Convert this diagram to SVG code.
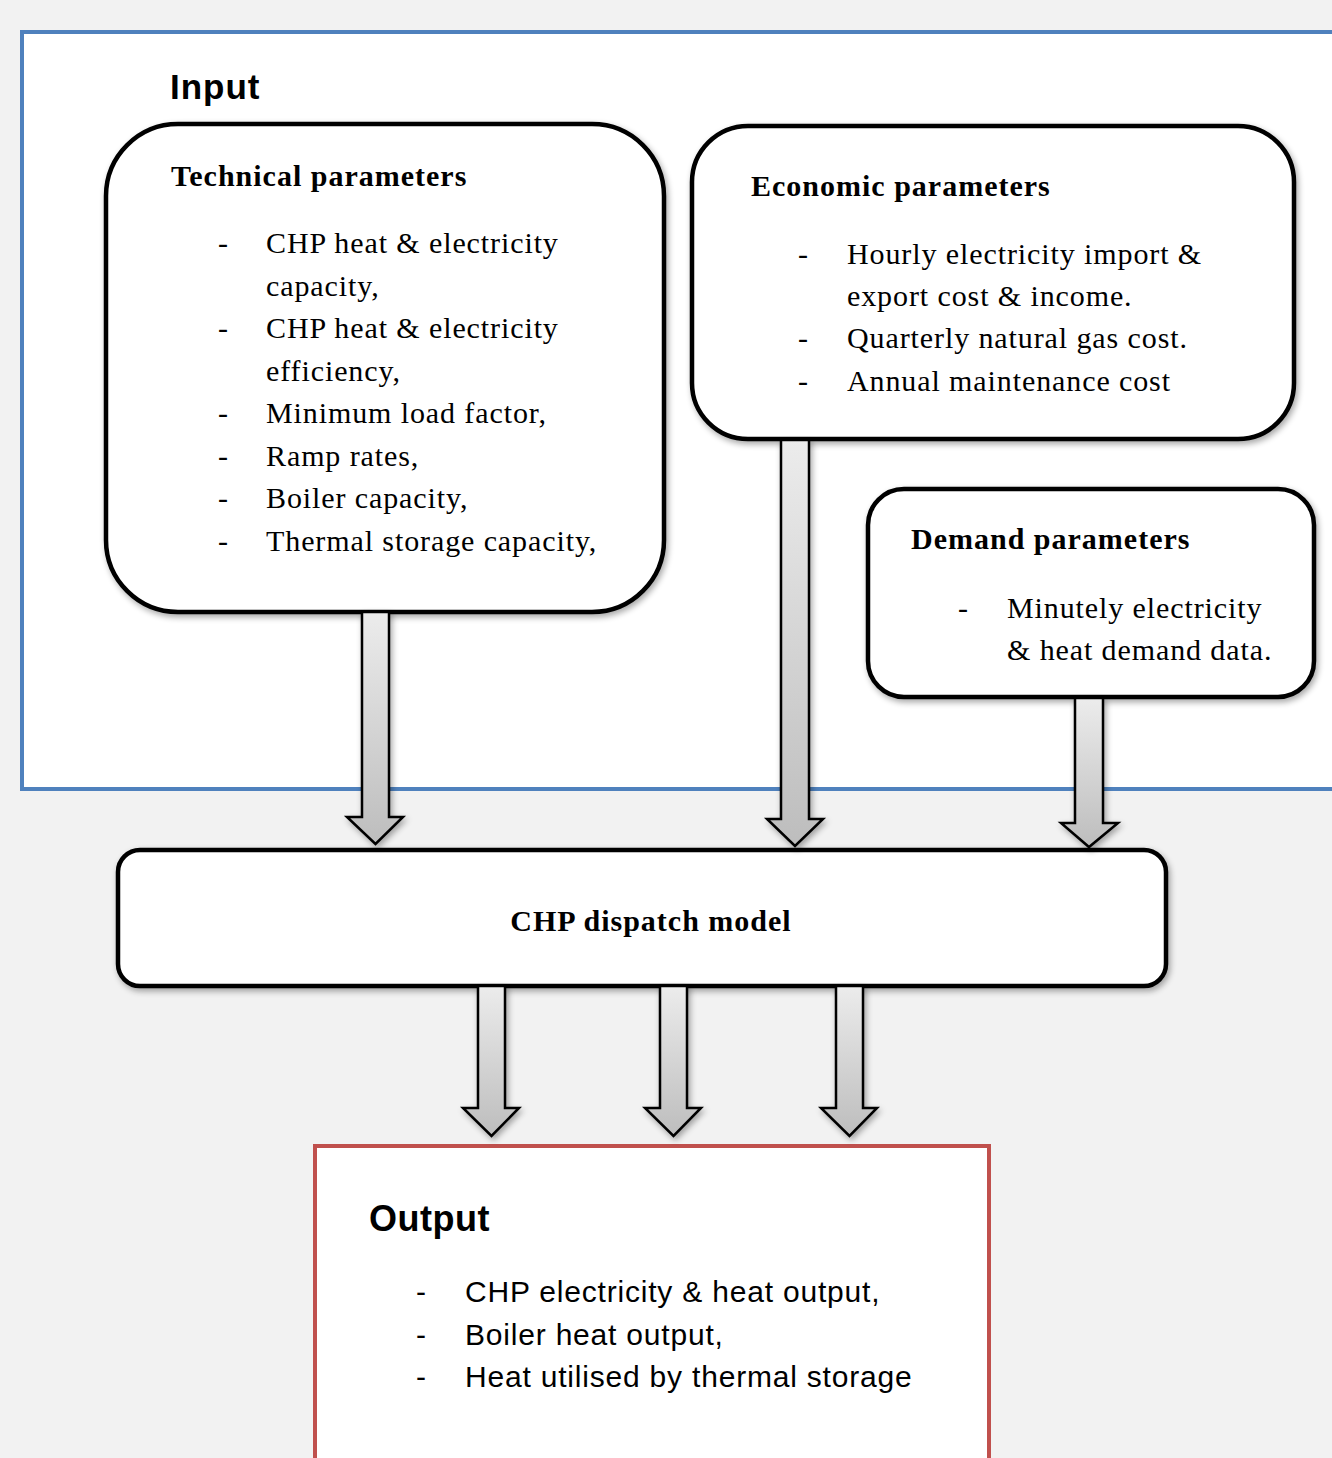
<svg xmlns="http://www.w3.org/2000/svg" width="1332" height="1458" viewBox="0 0 1332 1458">
<style>
.box{fill:#fff;stroke:#000;stroke-width:4.5}
.serif{font-family:"Liberation Serif","Times New Roman",serif;font-size:30px;letter-spacing:0.9px;fill:#000}
.b{font-weight:bold;letter-spacing:1px}
.sans{font-family:"Liberation Sans",Arial,sans-serif;fill:#000}
.arrow{fill:url(#ag);stroke:#000;stroke-width:2.5;stroke-linejoin:miter}
</style>
<defs>
<linearGradient id="ag" x1="0" y1="0" x2="0" y2="1">
<stop offset="0" stop-color="#ececec"/>
<stop offset="1" stop-color="#bdbdbd"/>
</linearGradient>
<filter id="sh" x="-10%" y="-10%" width="120%" height="125%">
<feGaussianBlur in="SourceAlpha" stdDeviation="3"/>
<feOffset dx="2" dy="3" result="o"/>
<feComponentTransfer><feFuncA type="linear" slope="0.35"/></feComponentTransfer>
<feMerge><feMergeNode/><feMergeNode in="SourceGraphic"/></feMerge>
</filter>
<filter id="inner" x="0" y="0" width="100%" height="100%">
<feFlood flood-color="#000" flood-opacity="0.25"/>
<feComposite in2="SourceAlpha" operator="out"/>
<feGaussianBlur stdDeviation="6"/>
<feOffset dx="2" dy="3"/>
<feComposite in2="SourceAlpha" operator="in"/>
<feMerge><feMergeNode in="SourceGraphic"/><feMergeNode/></feMerge>
</filter>
</defs>
<rect width="1332" height="1458" fill="#f2f2f2"/>

<g id="input">
<rect x="22" y="32" width="1340" height="757" fill="#fff" filter="url(#inner)"/>
<rect x="22" y="32" width="1340" height="757" fill="none" stroke="#4f81bd" stroke-width="4"/>
<text x="170" y="99" class="sans" font-weight="bold" font-size="35" letter-spacing="1">Input</text>
</g>

<g id="output">
<rect x="315" y="1146" width="674" height="330" fill="#fff" filter="url(#inner)"/>
<rect x="315" y="1146" width="674" height="330" fill="none" stroke="#c0504d" stroke-width="4"/>
<text x="369" y="1231" class="sans" font-weight="bold" font-size="36" letter-spacing="0.5">Output</text>
<g class="sans" font-size="30" letter-spacing="0.8">
<text x="416" y="1302">-</text><text x="465" y="1302">CHP electricity &amp; heat output,</text>
<text x="416" y="1345">-</text><text x="465" y="1345">Boiler heat output,</text>
<text x="416" y="1387">-</text><text x="465" y="1387">Heat utilised by thermal storage</text>
</g>
</g>

<g id="technical">
<rect x="106" y="124" width="558" height="488" rx="72" class="box" filter="url(#sh)"/>
<text x="171" y="186" class="serif b">Technical parameters</text>
<g class="serif">
<text x="218" y="253">-</text><text x="266" y="253">CHP heat &amp; electricity</text>
<text x="266" y="296">capacity,</text>
<text x="218" y="338">-</text><text x="266" y="338">CHP heat &amp; electricity</text>
<text x="266" y="381">efficiency,</text>
<text x="218" y="423">-</text><text x="266" y="423">Minimum load factor,</text>
<text x="218" y="466">-</text><text x="266" y="466">Ramp rates,</text>
<text x="218" y="508">-</text><text x="266" y="508">Boiler capacity,</text>
<text x="218" y="551">-</text><text x="266" y="551">Thermal storage capacity,</text>
</g>
</g>

<g id="economic">
<rect x="692" y="126" width="602" height="313" rx="56" class="box" filter="url(#sh)"/>
<text x="751" y="196" class="serif b">Economic parameters</text>
<g class="serif">
<text x="798" y="264">-</text><text x="847" y="264">Hourly electricity import &amp;</text>
<text x="847" y="306">export cost &amp; income.</text>
<text x="798" y="348">-</text><text x="847" y="348">Quarterly natural gas cost.</text>
<text x="798" y="391">-</text><text x="847" y="391">Annual maintenance cost</text>
</g>
</g>

<g id="demand">
<rect x="868" y="489" width="446" height="208" rx="36" class="box" filter="url(#sh)"/>
<text x="911" y="549" class="serif b">Demand parameters</text>
<g class="serif">
<text x="958" y="618">-</text><text x="1007" y="618">Minutely electricity</text>
<text x="1007" y="660">&amp; heat demand data.</text>
</g>
</g>

<g id="dispatch">
<rect x="118" y="850" width="1048" height="136" rx="22" class="box" filter="url(#sh)"/>
<text x="651" y="931" class="serif b" text-anchor="middle">CHP dispatch model</text>
</g>

<g id="connectors" filter="url(#sh)">
<path class="arrow" d="M362,612 H389 V817 H403 L375.5,844 L347,817 H362 Z"/>
<path class="arrow" d="M781,440 H809 V819 H823 L795,846 L767,819 H781 Z"/>
<path class="arrow" d="M1075,698 H1103 V823 H1118 L1089,847 L1061,823 H1075 Z"/>
<path class="arrow" d="M478,986 H505 V1108 H519 L491.5,1136 L463,1108 H478 Z"/>
<path class="arrow" d="M660,986 H687 V1108 H701 L673.5,1136 L645,1108 H660 Z"/>
<path class="arrow" d="M836,986 H863 V1108 H877 L849.5,1136 L821,1108 H836 Z"/>
</g>
</svg>
